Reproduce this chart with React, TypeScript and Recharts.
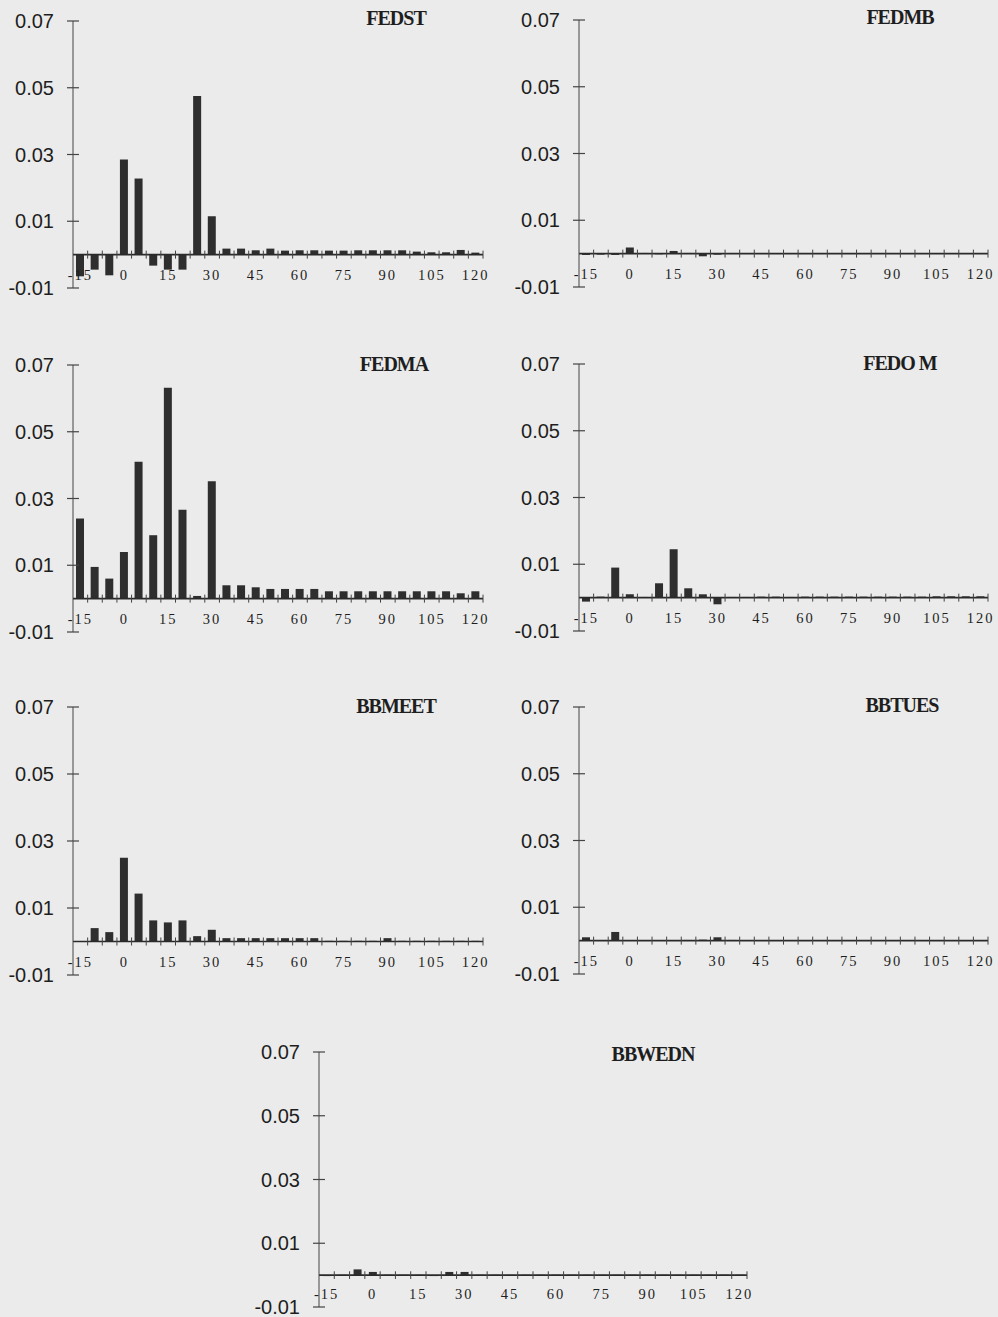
import React from 'react';
import { BarChart, Bar, XAxis, YAxis, ReferenceLine } from 'recharts';

// lags (categories) in minutes
const lags = [-15, -10, -5, 0, 5, 10, 15, 20, 25, 30, 35, 40, 45, 50, 55, 60, 65, 70, 75, 80, 85, 90, 95, 100, 105, 110, 115, 120];
const xLabelTicks = [-15, 0, 15, 30, 45, 60, 75, 90, 105, 120];
const yTicks = [-0.01, 0.01, 0.03, 0.05, 0.07];

const fedst = [-0.0065, -0.0045, -0.0062, 0.0285, 0.0228, -0.0033, -0.0045, -0.0045, 0.0475, 0.0115, 0.0018, 0.0018, 0.0013, 0.0018, 0.0012, 0.0013, 0.0013, 0.0012, 0.0012, 0.0013, 0.0013, 0.0013, 0.0013, 0.0009, 0.0007, 0.0007, 0.0014, 0.0006];
const fedmb = [-0.0004, -0.0003, -0.0004, 0.0018, 0.0002, -0.0002, 0.0008, 0.0002, -0.0008, -0.0003, 0.0001, 0.0001, 0.0001, 0.0001, 0.0001, 0.0001, 0.0001, 0.0001, 0.0001, 0.0001, 0.0001, 0.0001, 0.0001, 0.0001, 0.0001, 0.0001, 0.0001, 0.0001];
const fedma = [0.024, 0.0095, 0.006, 0.014, 0.041, 0.019, 0.0632, 0.0266, 0.0008, 0.0352, 0.004, 0.004, 0.0034, 0.0029, 0.0029, 0.0029, 0.0029, 0.0022, 0.0022, 0.0022, 0.0022, 0.0022, 0.0022, 0.0022, 0.0022, 0.0022, 0.0016, 0.0022];
const fedom = [-0.0012, 0.0003, 0.009, 0.001, 0.0002, 0.0043, 0.0145, 0.0028, 0.001, -0.002, 0.0002, 0.0002, 0.0003, 0.0003, 0.0002, 0.0003, 0.0003, 0.0003, 0.0003, 0.0003, 0.0003, 0.0003, 0.0003, 0.0003, 0.0004, 0.0004, 0.0004, 0.0004];
const bbmeet = [0, 0.004, 0.0028, 0.025, 0.0143, 0.0063, 0.0057, 0.0063, 0.0016, 0.0035, 0.001, 0.001, 0.001, 0.001, 0.001, 0.001, 0.001, 0.0002, 0.0002, 0.0002, 0.0002, 0.001, 0.0002, 0.0002, 0.0002, 0.0002, 0.0002, 0.0002];
const bbtues = [0.001, 0.0001, 0.0026, 0.0002, 0, 0, 0, 0.0002, 0.0003, 0.001, 0.0002, 0.0001, 0.0001, 0.0001, 0.0001, 0.0001, 0.0001, 0.0001, 0.0001, 0.0001, 0.0001, 0.0001, 0.0001, 0.0001, 0.0001, 0.0001, 0.0001, 0.0001];
const bbwedn = [-0.0003, 0.0001, 0.0018, 0.001, 0.0001, 0.0001, 0.0001, -0.0003, 0.001, 0.001, 0.0001, 0.0001, 0.0001, 0.0001, 0.0001, 0.0001, 0.0001, 0.0001, 0.0001, 0.0001, 0.0001, 0.0001, 0.0001, 0.0001, 0.0001, 0.0001, 0.0001, 0.0001];

const boundaries = lags.map((l) => l + 2.5);

const INK = '#2e2e2e';
const Y_MARGIN = 19;

function XLabel(props: any) {
  const { x, y, payload } = props;
  return (
    <text x={x} y={y - 8} textAnchor="middle" fontFamily="'Liberation Serif', serif" fontSize={14.5} letterSpacing={2} fill="#1e1e1e">
      {payload.value}
    </text>
  );
}

function YLabel(props: any) {
  const { x, y, payload } = props;
  return (
    <g>
      <line x1={x + Y_MARGIN - 6} x2={x + Y_MARGIN + 6} y1={y} y2={y} stroke="#444" strokeWidth={1.2} />
      <text x={x} y={y} textAnchor="end" dominantBaseline="central" fontFamily="'Liberation Sans', Arial, sans-serif" fontSize={20} fill="#1e1e1e">
        {Number(payload.value).toFixed(2)}
      </text>
    </g>
  );
}

type PanelProps = {
  title: string;
  values: number[];
  axisX: number;
  top: number;
  plotW: number;
  plotH: number;
  titleX: number;
  titleY: number;
};

function Panel({ title, values, axisX, top, plotW, plotH, titleX, titleY }: PanelProps) {
  const data = lags.map((x, i) => ({ x, v: values[i] }));
  const yW = 74;
  const mTop = 10;
  const xH = 20;
  const mRight = 6;
  return (
    <>
      <div style={{ position: 'absolute', left: axisX - yW, top: top - mTop }}>
        <BarChart
          width={yW + plotW + mRight}
          height={mTop + plotH + xH}
          data={data}
          margin={{ top: mTop, right: mRight, bottom: 0, left: 0 }}
        >
          <XAxis
            dataKey="x"
            type="number"
            domain={[-17.5, 122.5]}
            ticks={xLabelTicks}
            interval={0}
            axisLine={false}
            tickLine={false}
            tickSize={0}
            tickMargin={0}
            height={xH}
            tick={<XLabel />}
            allowDataOverflow
          />
          <YAxis
            type="number"
            domain={[-0.01, 0.07]}
            ticks={yTicks}
            interval={0}
            width={yW}
            tick={<YLabel />}
            tickLine={false}
            tickSize={0}
            tickMargin={Y_MARGIN}
            stroke="#444"
            allowDataOverflow
          />
          <Bar dataKey="v" fill={INK} barSize={8} isAnimationActive={false} />
          <ReferenceLine y={0} stroke="#2a2a2a" strokeWidth={1.6} />
          {boundaries.map((b) => (
            <ReferenceLine
              key={b}
              segment={[{ x: b, y: -0.0012 }, { x: b, y: 0.0012 }]}
              stroke="#444"
              strokeWidth={1}
            />
          ))}
        </BarChart>
      </div>
      <div
        style={{
          position: 'absolute',
          left: titleX,
          top: titleY,
          transform: 'translate(-50%, -50%)',
          fontFamily: "'Liberation Serif', 'Times New Roman', serif",
          fontWeight: 'bold',
          fontSize: 20,
          letterSpacing: -1,
          whiteSpace: 'pre',
          color: '#1e1e1e',
        }}
      >
        {title}
      </div>
    </>
  );
}

export default function App() {
  return (
    <div style={{ position: 'absolute', left: 0, top: 0, width: 998, height: 1317, background: '#ebebeb', overflow: 'hidden' }}>
      <Panel title="FEDST" values={fedst} axisX={73} top={21} plotW={410} plotH={267} titleX={396} titleY={18} />
      <Panel title="FEDMB" values={fedmb} axisX={579} top={20} plotW={409} plotH={267} titleX={900} titleY={17} />
      <Panel title="FEDMA" values={fedma} axisX={73} top={365} plotW={410} plotH={267} titleX={394} titleY={364} />
      <Panel title="FEDO M" values={fedom} axisX={579} top={364} plotW={409} plotH={267} titleX={900} titleY={363} />
      <Panel title="BBMEET" values={bbmeet} axisX={73} top={707} plotW={410} plotH={268} titleX={396} titleY={706} />
      <Panel title="BBTUES" values={bbtues} axisX={579} top={707} plotW={409} plotH={267} titleX={902} titleY={705} />
      <Panel title="BBWEDN" values={bbwedn} axisX={319} top={1052} plotW={428} plotH={255} titleX={653} titleY={1054} />
    </div>
  );
}
